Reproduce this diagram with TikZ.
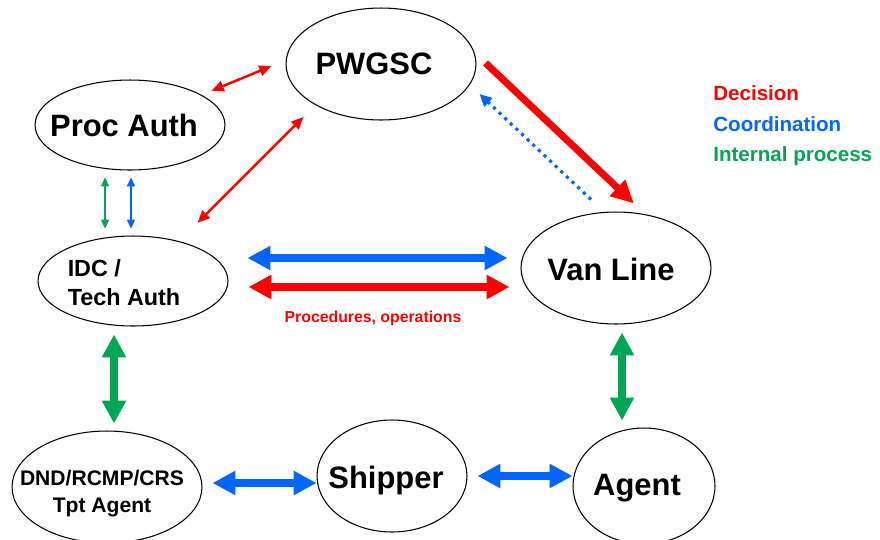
\documentclass[tikz,border=0pt]{standalone}
\usepackage{fontspec}
\setmainfont{Liberation Sans}
\usepackage{xcolor}
\usetikzlibrary{calc}
\usetikzlibrary{arrows.meta,shapes.geometric}

\definecolor{decred}{RGB}{255,0,0}
\definecolor{coordblue}{RGB}{0,102,255}
\definecolor{procgreen}{RGB}{0,166,81}

\begin{document}
\begin{tikzpicture}[x=0.02cm,y=-0.02cm,
  oval/.style={draw,ellipse,line width=0.6pt,inner sep=0pt},
  big/.style={font=\fontsize{17.6}{21}\selectfont\bfseries},
  mid/.style={font=\fontsize{13.3}{16.4}\selectfont\bfseries},
  small/.style={font=\fontsize{12}{15.3}\selectfont\bfseries},
  key/.style={font=\fontsize{11.7}{14}\selectfont\bfseries,anchor=west,inner sep=0pt},
  thinlink/.style={line width=1.4pt,{Triangle[length=7pt,width=6pt]}-{Triangle[length=7pt,width=6pt]}},
  hairlink/.style={line width=1.1pt,{Triangle[length=5pt,width=4.5pt]}-{Triangle[length=5pt,width=4.5pt]}},
  fatlink/.style={line width=4pt,{Triangle[length=13pt,width=13pt]}-{Triangle[length=13pt,width=13pt]}}]
\useasboundingbox (0,0) rectangle (880,539);

% Agencies
\node[oval,minimum width=3.8cm,minimum height=2.24cm,label={[big,xshift=-0.14cm]center:PWGSC}] (pwgsc) at (381,64) {};
\node[oval,minimum width=3.8cm,minimum height=1.8cm,label={[big,xshift=-0.12cm]center:Proc Auth}] (proc) at (130,125) {};
\node[oval,minimum width=3.8cm,minimum height=1.8cm,label={[mid,align=left,xshift=-0.18cm,yshift=-0.04cm]center:IDC /\\Tech Auth}] (idc) at (133,281) {};
\node[oval,minimum width=3.8cm,minimum height=2.24cm,label={[big,xshift=-0.1cm,yshift=-0.03cm]center:Van Line}] (van) at (616,268) {};
\node[oval,minimum width=3.8cm,minimum height=2.24cm,label={[small,align=center,xshift=-0.1cm,yshift=-0.14cm]center:DND/RCMP/CRS\\Tpt Agent}] (dnd) at (107,487) {};
\node[oval,minimum width=3cm,minimum height=2.24cm,label={[big,xshift=-0.12cm,yshift=-0.08cm]center:Shipper}] (ship) at (392,476) {};
\node[oval,minimum width=2.84cm,minimum height=2.32cm,label={[big,xshift=-0.14cm,yshift=-0.05cm]center:Agent}] (agent) at (644,486) {};

% Decision links
\draw[thinlink,decred] ($(proc.north east)+(14,-2)$) -- ($(pwgsc.west)+(-14,2)$);
\draw[thinlink,decred] ($(idc.north east)+(-3,-26)$) -- ($(pwgsc.south west)+(-10,13)$);
\draw[decred,line width=4pt,-{Triangle[length=13pt,width=12pt]}] ($(pwgsc.east)+(9,-1)$) -- ($(van.north)+(18,-8)$);
\draw[fatlink,decred] ($(idc.east)+(20,6)$) -- ($(van.west)+(-11,19)$)
  node[midway,yshift=-0.62cm,xshift=-0.12cm,font=\fontsize{9}{11}\selectfont\bfseries] {Procedures, operations};

% Coordination links
\draw[coordblue,line width=1.8pt,dash pattern=on 1.8pt off 2.6pt,-{Triangle[length=7pt,width=6.5pt]}] ($(van.north)+(-25,-12)$) -- ($(pwgsc.east)+(3,30)$);
\draw[hairlink,coordblue] ($(proc.south)+(1,7)$) -- ($(idc.north)+(-2,-7)$);
\draw[fatlink,coordblue] ($(idc.east)+(19,-23)$) -- ($(van.west)+(-13,-10)$);
\draw[fatlink,coordblue] ($(dnd.east)+(10,-4)$) -- ($(ship.west)+(0,7)$);
\draw[fatlink,coordblue] ($(ship.east)+(10,0)$) -- ($(agent.west)+(0,-10)$);

% Internal process links
\draw[hairlink,procgreen] ($(proc.south)+(-25,7)$) -- ($(idc.north)+(-28,-7)$);
\draw[fatlink,procgreen] ($(idc.south)+(-19,8)$) -- ($(dnd.north)+(7,-7)$);
\draw[fatlink,procgreen] ($(van.south)+(6,8)$) -- ($(agent.north)+(-22,-7)$);

% Legend
\node[key,text=decred] (decision) at (713,93) {Decision};
\node[key,text=coordblue] (coordination) at (713,124) {Coordination};
\node[key,text=procgreen] (internal) at (713,156) {Internal process};
\end{tikzpicture}
\end{document}
